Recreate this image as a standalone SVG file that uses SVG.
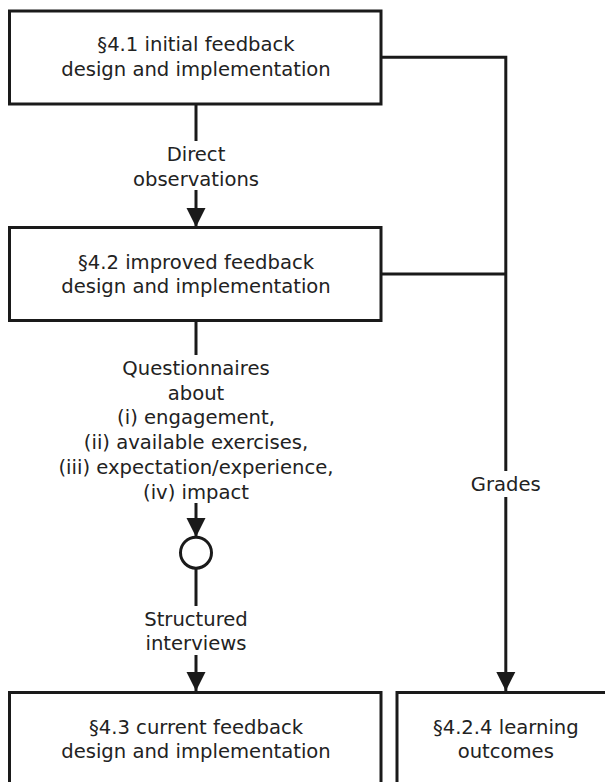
<svg xmlns="http://www.w3.org/2000/svg" width="605" height="782" viewBox="0 0 605 782">
<style>
.box{fill:#fff;stroke:#1a1a1a;stroke-width:3}
.ln{fill:none;stroke:#1a1a1a;stroke-width:3}
text{font-family:"DejaVu Sans",sans-serif;font-size:19.6px;fill:#222;text-anchor:middle}
</style>
<defs>
<marker id="ah" markerUnits="userSpaceOnUse" markerWidth="20" markerHeight="20" viewBox="0 0 20 20" refX="19" refY="10" orient="auto">
<path d="M0,0.5 L19,10 L0,19.5 Z" fill="#1a1a1a"/>
</marker>
</defs>
<rect width="605" height="782" fill="#fff"/>
<g id="connectors">
<path class="ln" d="M196,104 V141"/>
<path class="ln" d="M196,190 V227" marker-end="url(#ah)"/>
<path class="ln" d="M196,321 V355"/>
<path class="ln" d="M196,503 V537" marker-end="url(#ah)"/>
<path class="ln" d="M196,568 V606"/>
<path class="ln" d="M196,655 V691" marker-end="url(#ah)"/>
<path class="ln" d="M381,57.3 H505.8 V471"/>
<path class="ln" d="M381,274 H505.8"/>
<path class="ln" d="M505.8,497 V691" marker-end="url(#ah)"/>
<text x="196" y="161">Direct</text>
<text x="196" y="186">observations</text>
<text x="196" y="375">Questionnaires</text>
<text x="196" y="399.7">about</text>
<text x="196" y="424.4">(i) engagement,</text>
<text x="196" y="449.1">(ii) available exercises,</text>
<text x="196" y="473.8">(iii) expectation/experience,</text>
<text x="196" y="498.5">(iv) impact</text>
<text x="196" y="625.7">Structured</text>
<text x="196" y="650.4">interviews</text>
<text x="505.8" y="491.3">Grades</text>
</g>
<g id="merge">
<circle cx="196" cy="552.7" r="15.5" fill="#fff" stroke="#1a1a1a" stroke-width="3"/>
</g>
<g id="n41">
<rect class="box" x="9.5" y="11" width="371.5" height="93"/>
<text x="196" y="51.3">§4.1 initial feedback</text>
<text x="196" y="76">design and implementation</text>
</g>
<g id="n42">
<rect class="box" x="9.5" y="227.5" width="371.5" height="93"/>
<text x="196" y="268.7">§4.2 improved feedback</text>
<text x="196" y="293.4">design and implementation</text>
</g>
<g id="n43">
<rect class="box" x="9.5" y="692.5" width="371.5" height="120"/>
<text x="196" y="733.7">§4.3 current feedback</text>
<text x="196" y="758.4">design and implementation</text>
</g>
<g id="n424">
<rect class="box" x="397" y="692.5" width="230" height="120"/>
<text x="505.8" y="733.7">§4.2.4 learning</text>
<text x="505.8" y="758.4">outcomes</text>
</g>
</svg>
